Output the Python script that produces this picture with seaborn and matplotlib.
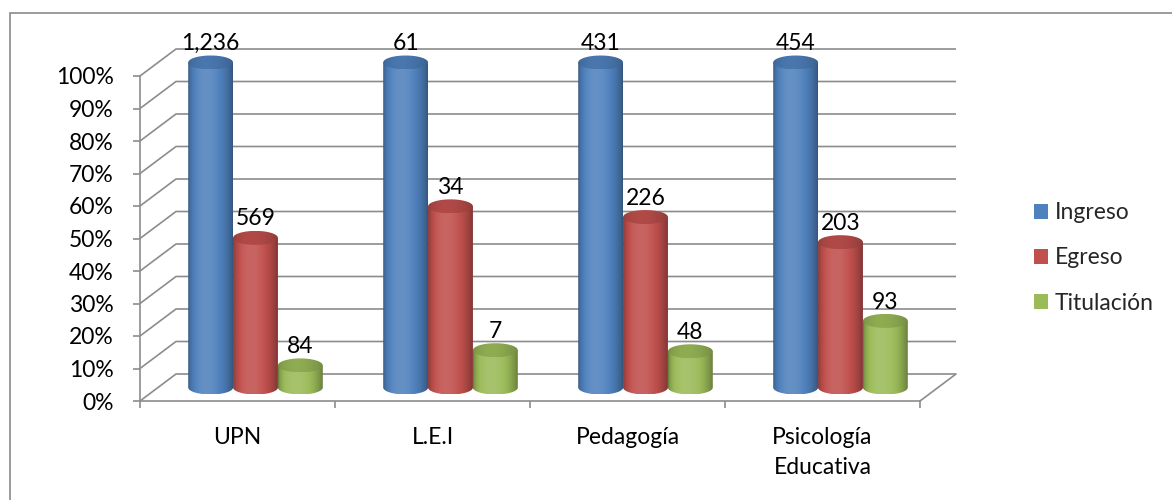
import numpy as np
import pandas as pd
import matplotlib
matplotlib.use("Agg")
import matplotlib.pyplot as plt
import seaborn as sns
from matplotlib.path import Path
from matplotlib.patches import Rectangle, Patch
from matplotlib.colors import to_rgb

# --- data -------------------------------------------------------------
categorias = ["UPN", "L.E.I", "Pedagogía", "Psicología\nEducativa"]
series = ["Ingreso", "Egreso", "Titulación"]
ingreso = [1236, 61, 431, 454]
egreso = [569, 34, 226, 203]
titulacion = [84, 7, 48, 93]
colores = ["#4F81BD", "#C0504D", "#9BBB59"]
yticks = list(range(0, 101, 10))

conteos = {"Ingreso": ingreso, "Egreso": egreso, "Titulación": titulacion}
rows = []
for i, cat in enumerate(categorias):
    for s in series:
        n = conteos[s][i]
        rows.append({"categoria": cat, "serie": s, "n": n,
                     "pct": 100.0 * n / ingreso[i]})
df = pd.DataFrame(rows)

# --- style ------------------------------------------------------------
sns.set_theme(style="white")
plt.rcParams["font.family"] = ["Lato", "DejaVu Sans"]
FS = 16.5
GRID = "#8c8c8c"
LW = 1.2
PX_PER_PCT = 3.25
YTOP = 115  # head-room above 100 % for the depth of the box

fig = plt.figure(figsize=(11.72, 5), dpi=100)
fig.patch.set_facecolor("white")
# front plane of the 3-D box (y extended upward to hold the back wall)
ax = fig.add_axes([140 / 1172, 99 / 500, 780 / 1172,
                   YTOP * PX_PER_PCT / 500])

sns.barplot(data=df, x="categoria", y="pct", hue="serie", order=categorias,
            hue_order=series, palette=colores, width=0.69, saturation=1,
            errorbar=None, legend=False, ax=ax)

# depth of the box in data units
DX = 36 / 195.0
DY = 27 / PX_PER_PCT
EH = 14 / PX_PER_PCT  # ellipse height of the cylinder ends


def shade(rgb, s):
    rgb = np.asarray(rgb)
    if s >= 1:
        return rgb + (1 - rgb) * (s - 1)
    return rgb * s


def gradient(color, n=64, lo=0.66, hi=1.12):
    base = to_rgb(color)
    t = np.linspace(0, 1, n)
    u = t ** (np.log(0.5) / np.log(0.4))
    prof = lo + (hi - lo) * np.sin(np.pi * u) ** 0.7
    return np.array([[shade(base, s) for s in prof]])


def ellipse_path(cx, cy, w, h, a0, a1, n=60):
    th = np.linspace(a0, a1, n)
    return [(cx + w / 2 * np.cos(a), cy + h / 2 * np.sin(a)) for a in th]


def closed(verts):
    verts = list(verts) + [verts[0]]
    codes = [Path.MOVETO] + [Path.LINETO] * (len(verts) - 2) + [Path.CLOSEPOLY]
    return Path(verts, codes)


for k, (cont, color) in enumerate(zip(ax.containers, colores)):
    grad = gradient(color)
    cap_grad = gradient(color, lo=0.74, hi=0.92)
    for i, bar in enumerate(cont):
        bar.set_visible(False)
        w = bar.get_width()
        h = bar.get_height()
        x0 = bar.get_x() + DX / 2
        x1 = x0 + w
        cx = x0 + w / 2
        base = DY / 2
        top = base + h
        z = 2 + k

        body = closed([(x0, top), (x1, top)] +
                      ellipse_path(cx, base, w, EH, 0, -np.pi))
        im = ax.imshow(grad, extent=(x0, x1, base - EH / 2, top), aspect="auto",
                       origin="lower", interpolation="bilinear", zorder=z)
        im.set_clip_path(body, ax.transData)

        cap = closed(ellipse_path(cx, top, w, EH, 0, 2 * np.pi))
        imc = ax.imshow(cap_grad, extent=(x0, x1, top - EH / 2, top + EH / 2),
                        aspect="auto", origin="lower", interpolation="bilinear",
                        zorder=z + 0.5)
        imc.set_clip_path(cap, ax.transData)

        n = df[(df.categoria == categorias[i]) & (df.serie == series[k])].n.iloc[0]
        ax.annotate(f"{n:,}", (cx, top + EH / 2), xytext=(0, 1),
                    textcoords="offset points", ha="center", va="bottom",
                    fontsize=FS, color="black", zorder=10, annotation_clip=False)

# walls and floor of the box
for t in yticks:
    ax.plot([-0.5, -0.5 + DX, 3.5 + DX], [t, t + DY, t + DY], color=GRID,
            lw=LW, clip_on=False, zorder=0.5, solid_capstyle="butt")
ax.plot([3.5, 3.5 + DX], [0, DY], color=GRID, lw=LW, clip_on=False, zorder=0.5)

ax.set_xlim(-0.5, 3.5)
ax.set_ylim(0, YTOP)
for side in ["top", "right"]:
    ax.spines[side].set_visible(False)
for side in ["left", "bottom"]:
    ax.spines[side].set_color(GRID)
    ax.spines[side].set_linewidth(LW)
ax.spines["left"].set_bounds(0, 100)

ax.set_yticks(yticks, [f"{t}%" for t in yticks])
ax.tick_params(axis="y", left=True, length=5, width=LW, color=GRID,
               direction="out", pad=14, labelsize=FS, labelcolor="black")
ax.set_xticks(range(len(categorias)), categorias)
ax.set_xticks([-0.5, 0.5, 1.5, 2.5, 3.5], minor=True)
ax.tick_params(axis="x", which="major", length=0, pad=19, labelsize=FS,
               labelcolor="black")
ax.tick_params(axis="x", which="minor", bottom=True, length=5, width=LW,
               color=GRID, direction="out")
for lab in ax.get_xticklabels():
    lab.set_linespacing(1.5)
ax.set_xlabel("")
ax.set_ylabel("")
ax.patch.set_alpha(0)

handles = [Patch(facecolor=c, edgecolor="none") for c in colores]
fig.legend(handles, series, loc="center left",
           bbox_to_anchor=(1034 / 1172, (500 - 258) / 500), frameon=False,
           fontsize=FS, handlelength=0.6, handleheight=0.6,
           handletextpad=0.3, labelspacing=1.05, borderpad=0, borderaxespad=0)

# chart-area border
fig.add_artist(Rectangle((10 / 1172, -0.2), 2, 1.2 - 12.5 / 500,
                         transform=fig.transFigure, fill=False,
                         edgecolor="#8a8a8a", lw=1.2))

fig.savefig("out.png", dpi=100)
